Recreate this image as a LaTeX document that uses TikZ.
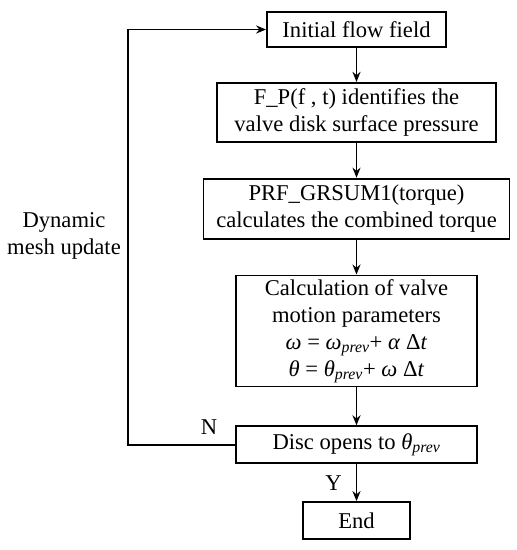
\documentclass[tikz,border=0pt]{standalone}
\usepackage{fontspec}
\setmainfont{Liberation Serif}
\usepackage{tikz}
\usetikzlibrary{arrows.meta,positioning}

\newcommand{\prevsub}{\textsubscript{\textit{prev}}}

\begin{document}
\begin{tikzpicture}[x=1pt,y=1pt,>={Stealth[length=10pt,width=8pt]},line width=1.8pt,
    font=\fontsize{22.6}{27}\selectfont]
    % page frame of the reference
    \useasboundingbox (0,0) rectangle (517,-550);
    \tikzstyle{process-box}=[rectangle,draw=black,align=center,inner sep=2pt]

    \node [process-box,minimum width=179pt,minimum height=35pt] (init) at (356.5,-29.5) {Initial flow field};
    \node [process-box,minimum width=279pt,minimum height=59pt] (pressure) [below=34pt of init] {F\_P(f , t) identifies the\\valve disk surface pressure};
    \node [process-box,minimum width=306pt,minimum height=60pt] (torque) [below=35pt of pressure] {PRF\_GRSUM1(torque)\\calculates the combined torque};
    \node [process-box,minimum width=241pt,minimum height=111pt] (motion) [below=35pt of torque] {Calculation of valve\\motion parameters\\\textit{ω} = \textit{ω}\prevsub{}+ \textit{α} Δ\textit{t}\\\textit{θ} = \textit{θ}\prevsub{}+ \textit{ω} Δ\textit{t}};
    \node [process-box,minimum width=241pt,minimum height=37pt] (disc) [below=38pt of motion] {Disc opens to \textit{θ}\prevsub};
    \node [process-box,minimum width=107pt,minimum height=37pt] (end) [below=37pt of disc] {End};

    \coordinate (loop-bottom) at ([xshift=-107pt]disc.west);
    \node (no-label) at ([shift={(-26pt,18pt)}]disc.west) {N};
    \node (yes-label) at ([shift={(-23pt,-19pt)}]disc.south) {Y};
    \node [align=center] (mesh-label) at (64,-236) {Dynamic\\mesh update};

    \path (init) edge [->] (pressure);
    \path (pressure) edge [->] (torque);
    \path (torque) edge [->] (motion);
    \path (motion) edge [->] (disc);
    \path (disc) edge [->] (end);
    \draw [->] (disc.west) -- (loop-bottom) |- (init.west);

\end{tikzpicture}
\end{document}
